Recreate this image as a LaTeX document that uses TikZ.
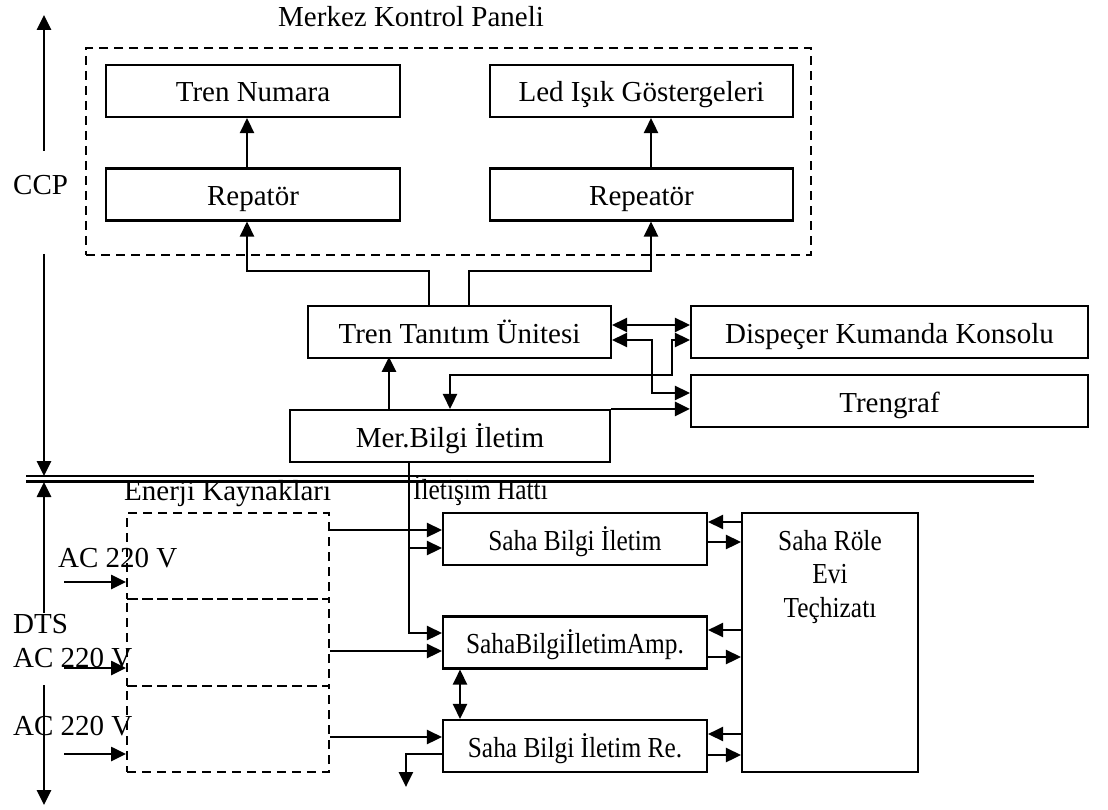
\documentclass[tikz,border=0pt]{standalone}
\usepackage{fontspec}
\setmainfont{Liberation Serif}
\usepackage{graphicx}
\usetikzlibrary{arrows.meta,calc}

% condensed text, as in the lower part
\newcommand{\cnd}[1]{\scalebox{0.875}[1]{#1}}

\tikzset{
  box/.style={draw, line width=2.1pt, inner sep=0pt, minimum height=52pt,
    text height=28pt, text depth=6pt},
  dbox/.style={draw, line width=2pt, dash pattern=on 9pt off 6pt, inner sep=0pt},
  conn/.style={line width=2.6pt},
  arr/.style={conn, -{Triangle[length=15pt,width=14pt]}},
  darr/.style={conn, {Triangle[length=15pt,width=14pt]}-{Triangle[length=15pt,width=14pt]}},
  lbl/.style={inner sep=0pt, anchor=base west},
}

\begin{document}
\begin{tikzpicture}[x=1pt, y=-1pt, font=\fontsize{29}{33.5}\selectfont]
  \useasboundingbox (0,0) rectangle (1108,810);

  % Merkez Kontrol Paneli
  \node[dbox, minimum width=725pt, minimum height=207pt] (kp) at (448.5,151.5) {};
  \node[lbl] (title) at (278,27) {Merkez Kontrol Paneli};
  \node[box, minimum width=294pt] (tn)   at (253,91)    {Tren Numara};
  \node[box, minimum width=303pt] (led)  at (641.5,91)  {Led Işık Göstergeleri};
  \node[box, minimum width=294pt] (rep1) at (253,194.5) {Repatör};
  \node[box, minimum width=303pt] (rep2) at (641.5,194.5) {Repeatör};

  % Middle units
  \node[box, minimum width=303pt] (ttu) at (459.5,332) {Tren Tanıtım Ünitesi};
  \node[box, minimum width=397pt] (dkk) at (889.5,332) {Dispeçer Kumanda Konsolu};
  \node[box, minimum width=397pt] (trg) at (889.5,401) {Trengraf};
  \node[box, minimum width=320pt] (mbi) at (450,436)   {Mer.Bilgi İletim};

  % Repeaters up to the displays
  \draw[arr] ($(rep1.north)+(-6,0)$) -- ($(tn.south)+(-6,0)$);
  \draw[arr] ($(rep2.north)+(9.5,0)$) -- ($(led.south)+(9.5,0)$);
  % Tren Tanitim to the repeaters
  \draw[arr] ($(ttu.north)+(-30.5,0)$) -- ++(0,-34) -| ($(rep1.south)+(-6,0)$);
  \draw[arr] ($(ttu.north)+(9.5,0)$) -- ++(0,-34) -| ($(rep2.south)+(9.5,0)$);
  % Links to console and trengraf
  \draw[darr] ($(ttu.east)+(0,-7)$) -- ($(dkk.west)+(0,-7)$);
  \draw[darr] ($(ttu.east)+(0,8)$) -- ++(40,0) |- ($(trg.west)+(0,-8)$);
  \draw[darr] ($(dkk.west)+(0,8)$) -- ++(-18,0) -- ++(0,35) -| (mbi.north);
  \draw[arr] ($(mbi.north)+(-61,0)$) -- ++(0,-52);
  \draw[arr] (mbi.north east) -- (mbi.north east -| trg.west);

  % Separator between CCP and DTS
  \draw[line width=2.2pt] (26,476) -- (1034,476) (26,481.5) -- (1034,481.5);

  % Side labels and arrows
  \node[lbl] (ccp) at (13,195) {CCP};
  \node[lbl] (dts) at (13,633) {DTS};
  \coordinate (ccpT) at (44,15);
  \coordinate (ccpU) at (44,151);
  \coordinate (ccpD) at (44,254);
  \coordinate (ccpB) at (44,476);
  \coordinate (dtsT) at (44,482);
  \coordinate (dtsU) at (44,613);
  \coordinate (dtsD) at (44,685);
  \coordinate (dtsB) at (44,805);
  \draw[arr] (ccpU) -- (ccpT);
  \draw[arr] (ccpD) -- (ccpB);
  \draw[arr] (dtsU) -- (dtsT);
  \draw[arr] (dtsD) -- (dtsB);

  % Enerji Kaynaklari
  \node[lbl] (ektxt) at (124,500) {Enerji Kaynakları};
  \node[lbl] (ihtxt) at (413,499) {\cnd{İletişim Hattı}};
  \node[dbox, minimum width=202pt, minimum height=86pt] (ek1) at (228,556) {};
  \node[dbox, minimum width=202pt, minimum height=87pt] (ek2) at (228,642.5) {};
  \node[dbox, minimum width=202pt, minimum height=86pt] (ek3) at (228,729) {};
  \node[lbl] (ac1) at (58,567) {AC 220 V};
  \node[lbl] (ac2) at (13,667) {AC 220 V};
  \node[lbl] (ac3) at (13,735) {AC 220 V};
  \foreach \i/\dy in {1/26,2/25.5,3/25}
    \draw[arr] ($(ek\i.west)+(-62,\dy)$) -- ($(ek\i.west)+(0,\dy)$);

  % Saha units
  \node[box, minimum width=264pt] (sb1) at (575,539)   {\cnd{Saha Bilgi İletim}};
  \node[box, minimum width=264pt] (sb2) at (575,642.5) {\cnd{SahaBilgiİletimAmp.}};
  \node[box, minimum width=264pt] (sb3) at (575,746)   {\cnd{Saha Bilgi İletim Re.}};
  \node[draw, line width=2.1pt, minimum width=176pt, minimum height=259pt] (sre) at (830,642.5) {};
  \node[align=center, anchor=north, inner sep=0pt] (sretxt) at (830,530)
    {\cnd{Saha Röle}\\\cnd{Evi}\\\cnd{Teçhizatı}};

  % Energy to Saha units
  \foreach \i/\dy in {1/-26,2/8.5,3/8} {
    \coordinate (e\i) at ($(ek\i.east)+(0,\dy)$);
    \draw[arr] (e\i) -- (e\i -| sb\i.west);
  }
  % Communication line from Mer.Bilgi
  \coordinate (tap) at ($(mbi.south)+(-41,0)$);
  \coordinate (sb1in) at ($(sb1.west)+(0,9)$);
  \coordinate (sb2in) at ($(sb2.west)+(0,-9.5)$);
  \draw[arr] (tap) |- (sb2in);
  \draw[arr] (tap |- sb1in) -- (sb1in);
  \draw[darr] ($(sb2.south)+(-115,0)$) -- ($(sb3.north)+(-115,0)$);
  \draw[arr] ($(sb3.west)+(0,8)$) -| ++(-36,33);

  % Saha units and the relay house
  \foreach \i/\u/\d in {1/-17/3, 2/-12.5/14.5, 3/-12/9} {
    \draw[arr] ($(sb\i.east -| sre.west)+(0,\u)$) -- ($(sb\i.east)+(0,\u)$);
    \draw[arr] ($(sb\i.east)+(0,\d)$) -- ($(sb\i.east -| sre.west)+(0,\d)$);
  }
\end{tikzpicture}
\end{document}
